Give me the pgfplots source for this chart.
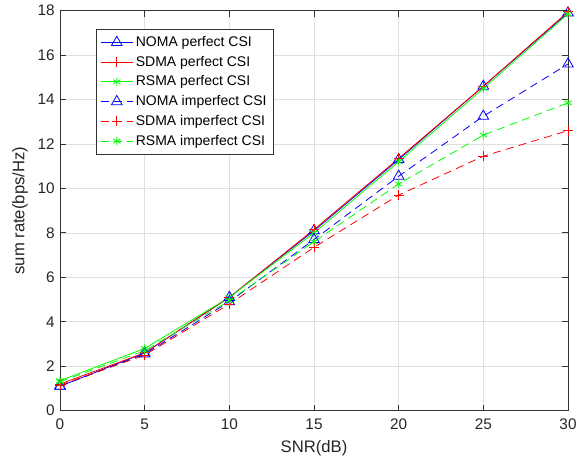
\documentclass[border=0pt]{standalone}
\usepackage{fontspec}
\setmainfont{Liberation Sans}
\usepackage{pgfplots}
\pgfplotsset{compat=1.18}
\definecolor{mblue}{rgb}{0,0,1}
\definecolor{mred}{rgb}{1,0,0}
\definecolor{mgreen}{rgb}{0,1,0}
\begin{document}
\begin{tikzpicture}
\begin{axis}[
  scale only axis,
  width=381pt, height=300pt,
  xmin=0, xmax=30, ymin=0, ymax=18,
  xtick={0,5,...,30}, ytick={0,2,...,18},
  grid=major,
  grid style={draw=black!12, line width=0.5pt},
  axis line style={draw=black!80, line width=0.6pt},
  tick style={draw=black!80, line width=0.6pt},
  tick align=inside,
  major tick length=4.5pt,
  /pgf/number format/assume math mode=true,
  ticklabel style={font=\fontsize{11.5}{13.5}\selectfont, text=black!85},
  xticklabel style={yshift=-2.5pt},
  yticklabel style={xshift=-0.5pt},
  xlabel={SNR(dB)}, ylabel={sum rate(bps/Hz)},
  label style={font=\fontsize{12.5}{14.5}\selectfont, text=black!85},
  xlabel style={yshift=-1.5pt},
  ylabel style={yshift=0.5pt},
  legend style={at={(0.071,0.955)}, anchor=north west, draw=black!80, line width=0.5pt,
    font=\fontsize{10.5}{12.5}\selectfont, row sep=1.7pt, inner xsep=3pt, inner ysep=3.5pt,
    cells={anchor=west}},
  legend image code/.code={\draw[mark repeat=2,mark phase=2] plot coordinates {(0pt,0pt)(12pt,0pt)(24pt,0pt)};},
]
\addplot[mblue, line width=0.6pt, mark=triangle, mark size=4.6pt, mark options={solid, line width=0.6pt}]
  coordinates {(0,1.1)(5,2.6)(10,5.1)(15,8.1)(20,11.3)(25,14.6)(30,17.9)};
\addlegendentry{NOMA perfect CSI}
\addplot[mred, line width=0.6pt, mark=+, mark size=3.8pt, mark options={solid, line width=0.6pt}]
  coordinates {(0,1.2)(5,2.6)(10,5.1)(15,8.15)(20,11.35)(25,14.6)(30,17.95)};
\addlegendentry{SDMA perfect CSI}
\addplot[mgreen, line width=0.6pt, mark=asterisk, mark size=3.2pt, mark options={solid, line width=0.6pt}]
  coordinates {(0,1.35)(5,2.8)(10,5.1)(15,8.0)(20,11.2)(25,14.5)(30,17.85)};
\addlegendentry{RSMA perfect CSI}
\addplot[mblue, line width=0.6pt, dash pattern=on 6pt off 4pt, mark=triangle, mark size=4.6pt, mark options={solid, line width=0.6pt}]
  coordinates {(0,1.1)(5,2.55)(10,4.9)(15,7.7)(20,10.55)(25,13.25)(30,15.6)};
\addlegendentry{NOMA imperfect CSI}
\addplot[mred, line width=0.6pt, dash pattern=on 6pt off 4pt, mark=+, mark size=3.8pt, mark options={solid, line width=0.6pt}]
  coordinates {(0,1.15)(5,2.5)(10,4.8)(15,7.35)(20,9.7)(25,11.45)(30,12.6)};
\addlegendentry{SDMA imperfect CSI}
\addplot[mgreen, line width=0.6pt, dash pattern=on 6pt off 4pt, mark=asterisk, mark size=3.2pt, mark options={solid, line width=0.6pt}]
  coordinates {(0,1.3)(5,2.7)(10,4.95)(15,7.6)(20,10.2)(25,12.4)(30,13.85)};
\addlegendentry{RSMA imperfect CSI}
\end{axis}
\pgfresetboundingbox
\path (current axis.south west) ++(-45pt,-41pt) coordinate (bbA);
\path (current axis.north east) ++(12pt,8pt) coordinate (bbB);
\useasboundingbox (bbA) rectangle (bbB);
\end{tikzpicture}
\end{document}
